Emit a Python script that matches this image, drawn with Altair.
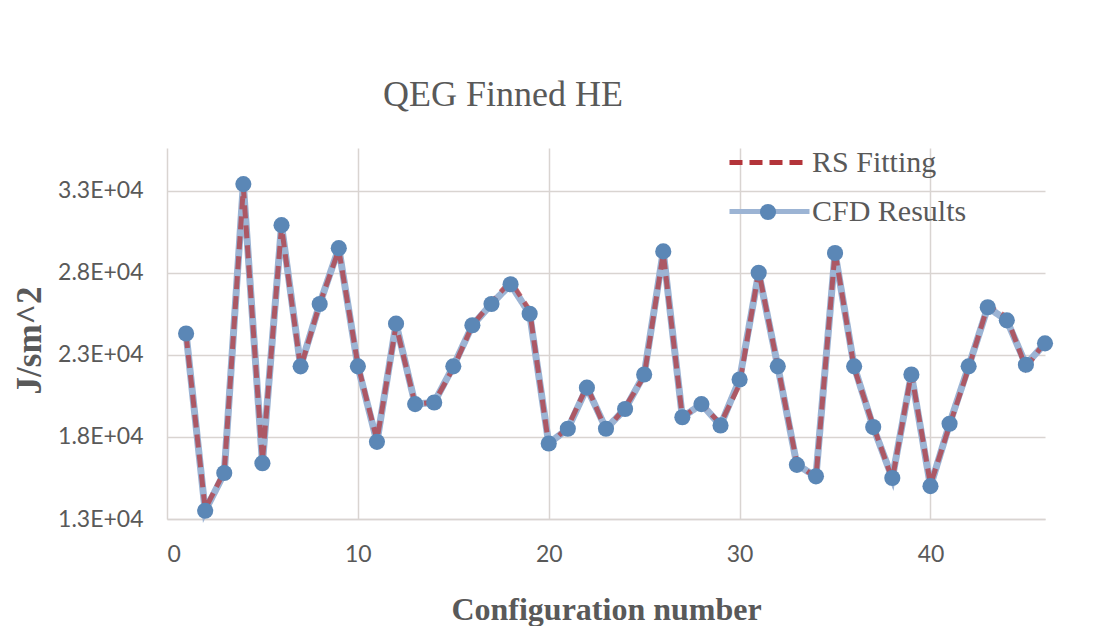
import altair as alt
import pandas as pd

# ---- data ----
config = list(range(1, 47))
cfd_results = [24300, 13500, 15800, 33400, 16400, 30900, 22300, 26100, 29500, 22300,
               17700, 24900, 20000, 20100, 22300, 24800, 26100, 27300, 25500, 17600,
               18500, 21000, 18500, 19700, 21800, 29300, 19200, 20000, 18700, 21500,
               28000, 22300, 16300, 15600, 29200, 22300, 18600, 15500, 21800, 15000,
               18800, 22300, 25900, 25100, 22400, 23700]
rs_fitting = [24200, 13600, 15900, 33200, 16500, 30800, 22200, 26100, 29400, 22400,
              17800, 24800, 20000, 20100, 22200, 24800, 26200, 27500, 25700, 17500,
              18600, 21100, 18400, 19800, 21700, 29200, 19200, 20000, 18800, 21200,
              28100, 22300, 16400, 15500, 29300, 22200, 18700, 15400, 21900, 15100,
              18700, 22200, 26000, 25300, 22200, 23800]
series_names = ["RS Fitting", "CFD Results"]
x_ticks = [0, 10, 20, 30, 40]
y_ticks = [13000, 18000, 23000, 28000, 33000]
y_tick_labels = ["1.3E+04", "1.8E+04", "2.3E+04", "2.8E+04", "3.3E+04"]

df = pd.concat([
    pd.DataFrame({"series": "CFD Results", "config": config, "value": cfd_results}),
    pd.DataFrame({"series": "RS Fitting", "config": config, "value": rs_fitting}),
])

# label expression built from the tick lists
label_expr = "''"
for v, lab in zip(y_ticks, y_tick_labels):
    label_expr = f"datum.value == {v} ? '{lab}' : ({label_expr})"

GRID = "#D9D4D1"
TXT = "#595959"

x_enc = alt.X("config:Q",
              scale=alt.Scale(domain=[0, 46], nice=False, zero=False),
              axis=alt.Axis(values=x_ticks, title="Configuration number", grid=True,
                            gridColor=GRID, gridWidth=1.5, ticks=False, tickSize=0,
                            domain=True, domainColor=GRID, domainWidth=1.5,
                            labelFont="Lato", labelFontSize=23, labelColor=TXT,
                            labelPadding=24, titleFont="Liberation Serif",
                            titleFontSize=32, titleFontWeight="bold", titleColor=TXT,
                            titlePadding=28))
y_enc = alt.Y("value:Q",
              scale=alt.Scale(domain=[13000, 35600], nice=False, zero=False),
              axis=alt.Axis(values=y_ticks, labelExpr=label_expr, title="J/sm^2",
                            grid=True, gridColor=GRID, gridWidth=1.5, ticks=False,
                            tickSize=0, domain=False, labelFont="Lato", labelFontSize=23,
                            labelColor=TXT, labelPadding=24, titleFont="Liberation Serif",
                            titleFontSize=35, titleFontWeight="bold", titleColor=TXT,
                            titlePadding=10, titleY=192))

color_scale = alt.Scale(domain=series_names, range=["#B3343A", "#9CB4D4"])
dash_scale = alt.Scale(domain=series_names, range=[[13, 7], [1, 0]])

line_legend = alt.Legend(
    orient="none", legendX=580, legendY=-8, title=None, padding=0,
    symbolType="M-2,0H2", symbolSize=1600, symbolStrokeWidth=5, symbolOpacity=1,
    labelFont="Liberation Serif", labelFontSize=30, labelColor=TXT, labelOffset=20,
    rowPadding=11,
)

base = alt.Chart(df)

cfd_line = base.transform_filter(alt.datum.series == "CFD Results").mark_line(
    strokeWidth=7).encode(
    x=x_enc, y=y_enc,
    color=alt.Color("series:N", scale=color_scale, legend=line_legend),
    strokeDash=alt.StrokeDash("series:N", scale=dash_scale, legend=line_legend),
)
rs_line = base.transform_filter(alt.datum.series == "RS Fitting").mark_line(
    strokeWidth=5, opacity=0.72).encode(
    x=x_enc, y=y_enc,
    color=alt.Color("series:N", scale=color_scale, legend=line_legend),
    strokeDash=alt.StrokeDash("series:N", scale=dash_scale, legend=line_legend),
)
points = base.transform_filter(alt.datum.series == "CFD Results").mark_circle(
    size=260, opacity=1).encode(
    x=x_enc, y=y_enc,
    fill=alt.Fill("series:N",
                  scale=alt.Scale(domain=["CFD Results"], range=["#5B87B6"]),
                  legend=alt.Legend(orient="none", legendX=586, legendY=49, title=None,
                                    padding=0, symbolType="circle", symbolSize=260,
                                    symbolOpacity=1, symbolStrokeWidth=0,
                                    labelExpr="''", labelFontSize=30, zindex=2)),
)

chart = alt.layer(cfd_line, rs_line, points).properties(
    width=878, height=371,
    autosize=alt.AutoSizeParams(type="none"),
    padding={"left": 159, "top": 140, "right": 50, "bottom": 107},
    title=alt.Title("QEG Finned HE", font="Liberation Serif", fontSize=36,
                    fontWeight="normal", color=TXT, anchor="start", frame="group",
                    dx=216, offset=26),
).configure_view(stroke=None)

chart.save("out.html", embed_options={"renderer": "svg", "actions": False})
